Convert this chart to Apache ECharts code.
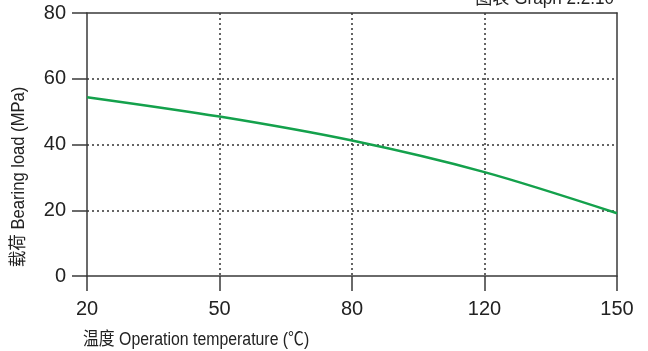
<!DOCTYPE html>
<html><head><meta charset="utf-8">
<script src="https://cdn.jsdelivr.net/npm/echarts@6/dist/echarts.min.js"></script>
<style>html,body{margin:0;padding:0;background:#fff}#c{width:648px;height:351px}</style>
</head><body><div id="c"></div>
<script>
const categories = ['20', '50', '80', '120', '150'];
const loadValues = [54.4, 48.5, 41.2, 31.6, 19.1];
const yTicks = [0, 20, 40, 60, 80];
const xName = '温度 Operation temperature (℃)';
const yName = '载荷 Bearing load (MPa)';
const titleText = '图表 Graph 2.2.10';

const sansFont = "'Liberation Sans', Arial, 'Noto Sans CJK SC', sans-serif";
const axisColor = '#3a3a3a';
const chart = echarts.init(document.getElementById('c'));
chart.setOption({
  animation: false,
  grid: { left: 87, right: 31, top: 13, bottom: 75 },
  graphic: [
    { type: 'text', x: 83, y: 340, scaleX: 0.88,
      style: { text: xName, font: "18px " + sansFont, fill: '#222', textAlign: 'left', textVerticalAlign: 'middle' } },
    { type: 'text', x: 19, y: 177, rotation: Math.PI / 2, scaleX: 0.92,
      style: { text: yName, font: "18px " + sansFont, fill: '#222', textAlign: 'center', textVerticalAlign: 'middle' } },
    { type: 'text', x: 614, y: -1, scaleX: 0.95,
      style: { text: titleText, font: "18px " + sansFont, fill: '#222', textAlign: 'right', textVerticalAlign: 'middle' } }
  ],
  xAxis: [{
    type: 'category', data: categories, boundaryGap: false,
    axisLine: { lineStyle: { color: axisColor, width: 1.5 } },
    axisTick: { length: 15, alignWithLabel: true, lineStyle: { color: axisColor, width: 1.5 } },
    axisLabel: { margin: 23, fontSize: 20, color: '#222', fontFamily: sansFont },
    splitLine: { show: true, interval: (i) => i > 0 && i < categories.length - 1,
      lineStyle: { type: [2, 3], color: '#333', width: 1.5 } }
  }, {
    type: 'category', data: categories, boundaryGap: false, position: 'top',
    axisLine: { show: true, onZero: false, lineStyle: { color: axisColor, width: 1.5 } },
    axisTick: { show: false }, axisLabel: { show: false }, splitLine: { show: false }
  }],
  yAxis: [{
    type: 'value', min: 0, max: 80, interval: 20,
    axisLine: { show: true, lineStyle: { color: axisColor, width: 1.5 } },
    axisTick: { show: true, length: 15, lineStyle: { color: axisColor, width: 1.5 } },
    axisLabel: { margin: 21, fontSize: 20, color: '#222', fontFamily: sansFont,
      formatter: v => yTicks.includes(v) ? String(v) : '' },
    splitLine: { show: true, showMinLine: false, showMaxLine: false,
      lineStyle: { type: [2, 3], color: '#333', width: 1.5 } }
  }, {
    type: 'value', min: 0, max: 80, interval: 20, position: 'right',
    axisLine: { show: true, onZero: false, lineStyle: { color: axisColor, width: 1.5 } },
    axisTick: { show: false }, axisLabel: { show: false }, splitLine: { show: false }
  }],
  series: [{
    type: 'line', data: loadValues, smooth: 0.3, symbol: 'none',
    lineStyle: { color: '#14a14c', width: 2.5 }
  }]
});
</script></body></html>
